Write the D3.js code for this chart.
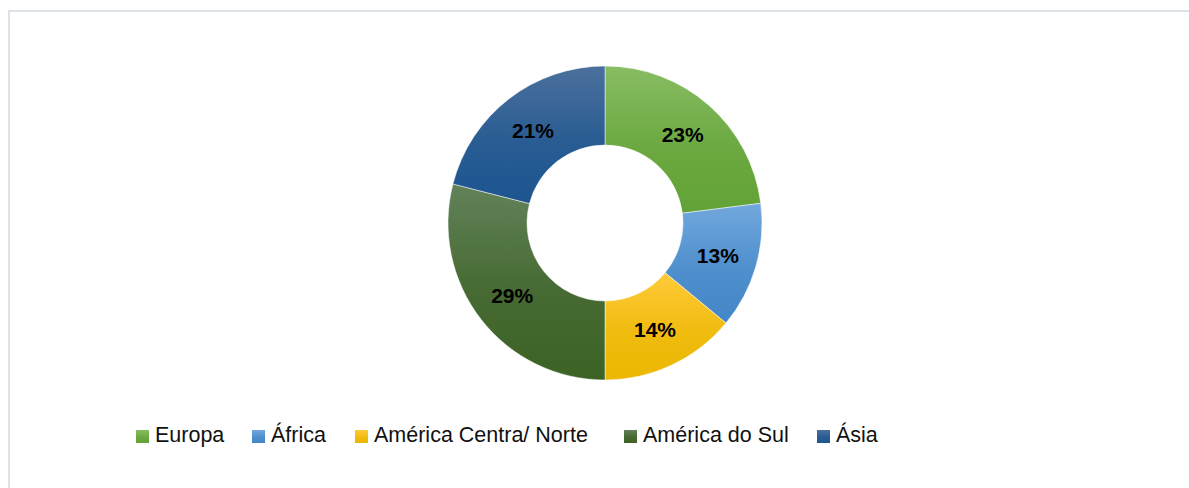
<!DOCTYPE html>
<html>
<head>
<meta charset="utf-8">
<script src="https://cdn.jsdelivr.net/npm/d3@7"></script>
<style>
  body { margin: 0; background: #fff; }
  svg { display: block; }
</style>
</head>
<body>
<div id="chart"></div>
<script>
// chart data
var categories = ["Europa", "África", "América Centra/ Norte", "América do Sul", "Ásia"];
var values = [23, 13, 14, 29, 21];
var colorsTop = ["#88bd63", "#71a8dd", "#ffca3a", "#62825a", "#4b709c"];
var colorsBottom = ["#62a236", "#4386c8", "#ebb700", "#3d6224", "#1d5590"];

var svgWidth = 1189;
var svgHeight = 488;

var svg = d3.select("#chart")
  .append("svg")
  .attr("width", svgWidth)
  .attr("height", svgHeight);

// outer frame (only top and left edges are in view)
svg.append("rect")
  .attr("x", 9)
  .attr("y", 11)
  .attr("width", 1200)
  .attr("height", 500)
  .attr("fill", "none")
  .attr("stroke", "#dde1e8")
  .attr("stroke-width", 2);

var defs = svg.append("defs");
categories.forEach(function(c, i) {
  var g = defs.append("linearGradient")
    .attr("id", "grad" + i)
    .attr("x1", 0).attr("y1", 0)
    .attr("x2", 0).attr("y2", 1);
  g.append("stop").attr("offset", "0%").attr("stop-color", colorsTop[i]);
  g.append("stop").attr("offset", "55%").attr("stop-color", d3.interpolateRgb(colorsTop[i], colorsBottom[i])(0.75));
  g.append("stop").attr("offset", "100%").attr("stop-color", colorsBottom[i]);
});

var cx = 605, cy = 223;
var outerR = 157, innerR = 78;

var pieData = d3.pie().sort(null)(values);
var arc = d3.arc().innerRadius(innerR).outerRadius(outerR);

var donut = svg.append("g")
  .attr("transform", `translate(${cx}, ${cy})`);

donut.selectAll("path")
  .data(pieData)
  .enter()
  .append("path")
  .attr("d", arc)
  .attr("fill", (d, i) => `url(#grad${i})`)
  .attr("stroke", "#fff")
  .attr("stroke-width", 0.5);

var total = d3.sum(values);
donut.selectAll("text")
  .data(pieData)
  .enter()
  .append("text")
  .attr("transform", d => `translate(${arc.centroid(d)})`)
  .attr("text-anchor", "middle")
  .attr("dy", "0.36em")
  .style("font-family", "'Liberation Sans', Arial, sans-serif")
  .style("font-weight", "bold")
  .style("font-size", "21px")
  .style("fill", "#000")
  .text(d => Math.round(d.value / total * 100) + "%");

// legend
var legendX = [136, 252, 355, 624, 817];
var legend = svg.append("g");
var items = legend.selectAll("g")
  .data(categories)
  .enter()
  .append("g")
  .attr("transform", (d, i) => `translate(${legendX[i]}, 0)`);

items.append("rect")
  .attr("x", 0)
  .attr("y", 430)
  .attr("width", 13)
  .attr("height", 13)
  .attr("fill", (d, i) => `url(#grad${i})`);

items.append("text")
  .attr("x", 19)
  .attr("y", 442)
  .style("font-family", "'Liberation Sans', Arial, sans-serif")
  .style("font-size", "21.5px")
  .style("fill", "#111")
  .text(d => d);
</script>
</body>
</html>
